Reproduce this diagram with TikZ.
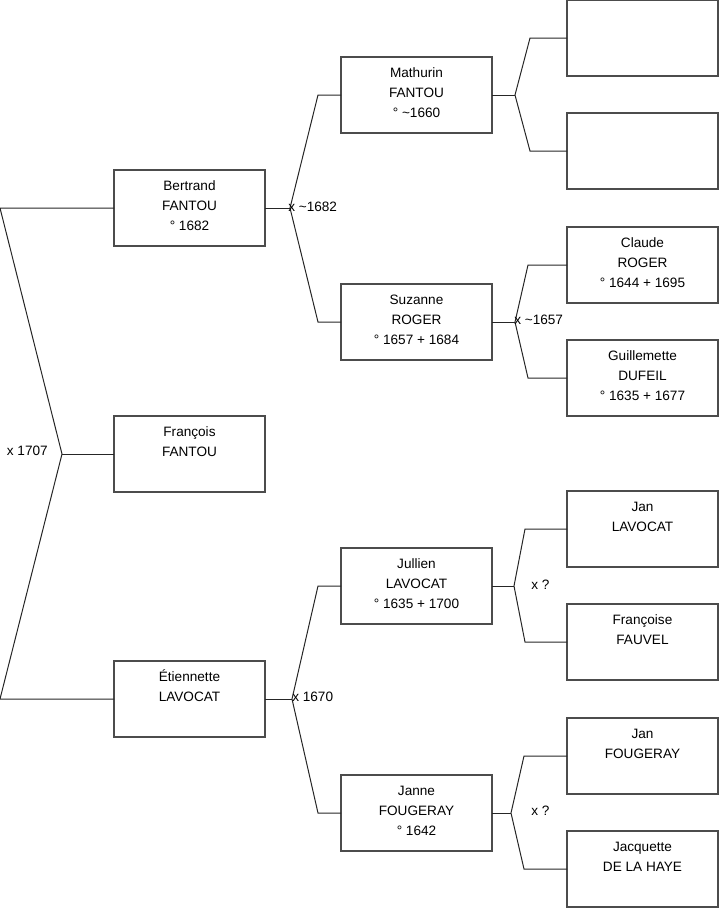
\documentclass[tikz,border=0pt]{standalone}
\usepackage{fontspec}
\setmainfont{Liberation Sans}
\usetikzlibrary{positioning}
\tikzset{
  box/.style    = {rectangle, draw=black!70, line width=0.9pt,
                   minimum width=113.25pt, minimum height=57pt, outer sep=0pt,
                   align=center, font=\fontsize{10.2}{15}\selectfont, inner sep=0pt},
  link/.style   = {draw=black!85, line width=0.75pt},
  mlabel/.style = {font=\fontsize{10.2}{12}\selectfont, inner sep=0pt}
}
\newcommand{\person}[3]{\strut #1\\\strut #2\\\rule[-7.5pt]{0pt}{10.5pt}#3}

\begin{document}
\begin{tikzpicture}[x=0.75pt, y=-0.75pt, node distance=127.5pt and 57pt]
    \useasboundingbox (0,0) rectangle (719,908);
    % generation 1
    \node[box] (bertrand) at (189.5,208) {\person{Bertrand}{FANTOU}{° 1682}};
    \node[box, below=of bertrand] (francois) {\person{François}{FANTOU}{}};
    \node[box, below=126.75pt of francois] (etiennette) {\person{Étiennette}{LAVOCAT}{}};
    % generation 2
    \node[box, right=of bertrand, yshift=84.75pt] (mathurin) {\person{Mathurin}{FANTOU}{° \textasciitilde1660}};
    \node[box, right=of bertrand, yshift=-85.5pt] (suzanne) {\person{Suzanne}{ROGER}{° 1657 + 1684}};
    \node[box, right=of etiennette, yshift=84.75pt] (jullien) {\person{Jullien}{LAVOCAT}{° 1635 + 1700}};
    \node[box, right=of etiennette, yshift=-85.5pt] (janne) {\person{Janne}{FOUGERAY}{° 1642}};
    % generation 3
    \node[box, right=56.25pt of mathurin, yshift=42.75pt] (mfather) {\person{}{}{}};
    \node[box, right=56.25pt of mathurin, yshift=-42pt] (mmother) {\person{}{}{}};
    \node[box, right=56.25pt of suzanne, yshift=42.75pt] (claude) {\person{Claude}{ROGER}{° 1644 + 1695}};
    \node[box, right=56.25pt of suzanne, yshift=-42pt] (guillemette) {\person{Guillemette}{DUFEIL}{° 1635 + 1677}};
    \node[box, right=56.25pt of jullien, yshift=42.75pt] (janl) {\person{Jan}{LAVOCAT}{}};
    \node[box, right=56.25pt of jullien, yshift=-42pt] (francoise) {\person{Françoise}{FAUVEL}{}};
    \node[box, right=56.25pt of janne, yshift=42.75pt] (janf) {\person{Jan}{FOUGERAY}{}};
    \node[box, right=56.25pt of janne, yshift=-42pt] (jacquette) {\person{Jacquette}{DE LA HAYE}{}};

    % forks
    \coordinate (rtop) at (0,208);
    \coordinate (rfork) at (62,454);
    \coordinate (rbot) at (0,699);
    \coordinate (bfork) at (290,208);
    \coordinate (efork) at (292,699);
    \coordinate (mfork) at (515,95);
    \coordinate (sfork) at (515,322);
    \coordinate (jfork) at (514,586);
    \coordinate (nfork) at (511,813);

    \draw[link] (bertrand.west) -- (rtop) -- (rfork) -- (rbot) -- (etiennette.west);
    \draw[link] (rfork) -- (francois.west);

    \draw[link] (bertrand.east) -- (bfork);
    \draw[link] (mathurin.west) -- ++(-23,0) -- (bfork) -- (318,322) -- (suzanne.west);
    \draw[link] (etiennette.east) -- (efork);
    \draw[link] (jullien.west) -- ++(-23,0) -- (efork) -- (318,813) -- (janne.west);

    \draw[link] (mathurin.east) -- (mfork);
    \draw[link] (mfather.west) -- ++(-37,0) -- (mfork) -- (530,151) -- (mmother.west);
    \draw[link] (suzanne.east) -- (sfork);
    \draw[link] (claude.west) -- ++(-39,0) -- (sfork) -- (528,378) -- (guillemette.west);
    \draw[link] (jullien.east) -- (jfork);
    \draw[link] (janl.west) -- ++(-42,0) -- (jfork) -- (525,642) -- (francoise.west);
    \draw[link] (janne.east) -- (nfork);
    \draw[link] (janf.west) -- ++(-43,0) -- (nfork) -- (524,869) -- (jacquette.west);

    % marriages
    \node[mlabel, anchor=east] (m1707) at (48,451) {x 1707};
    \node[mlabel, anchor=west] (m1682) at (288,207) {x \textasciitilde1682};
    \node[mlabel, anchor=west] (m1670) at (292,697) {x 1670};
    \node[mlabel, anchor=west] (m1657) at (514,320) {x \textasciitilde1657};
    \node[mlabel, anchor=west] (mjul) at (531,585) {x ?};
    \node[mlabel, anchor=west] (mjan) at (531,811) {x ?};
\end{tikzpicture}
\end{document}
